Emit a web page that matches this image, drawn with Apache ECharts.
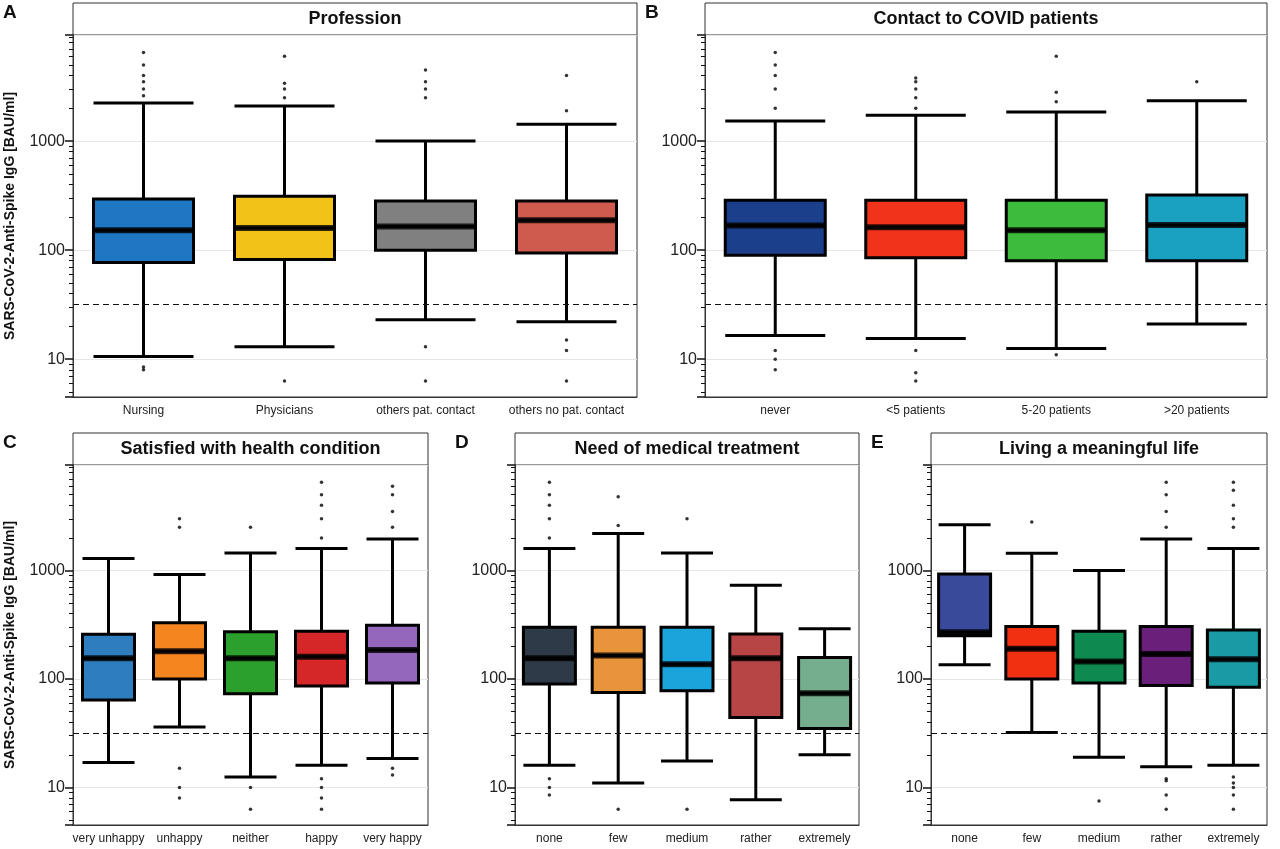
<!DOCTYPE html>
<html>
<head>
<meta charset="utf-8">
<script src="https://cdn.jsdelivr.net/npm/echarts@6/dist/echarts.min.js"></script>
<style>html,body{margin:0;padding:0;background:#fff}#chart{width:1280px;height:849px}</style>
</head>
<body>
<div id="chart"></div>
<script>
// values: [low whisker, Q1, median, Q3, high whisker]
var aCats = ['Nursing', 'Physicians', 'others pat. contact', 'others no pat. contact'];
var aStats = [[10.6, 77, 152, 295, 2240], [13, 82, 160, 312, 2100], [23, 100, 165, 283, 1000], [22, 94, 188, 283, 1430]];
var aOut = [[2600, 3000, 3500, 4000, 5000, 6500, 8, 8.5], [2500, 3000, 3400, 6000, 6.3], [2500, 3000, 3500, 4500, 6.3, 13], [1900, 4000, 6.3, 12, 15]];

var bCats = ['never', '<5 patients', '5-20 patients', '>20 patients'];
var bStats = [[16.5, 90, 168, 287, 1530], [15.5, 85, 162, 287, 1730], [12.5, 80, 152, 287, 1850], [21, 80, 170, 320, 2350]];
var bOut = [[2000, 3000, 4000, 5000, 6500, 8, 10, 12], [2000, 2500, 3000, 3500, 3800, 6.3, 7.5, 12], [2300, 2800, 6000, 11], [3500]];

var cCats = ['very unhappy', 'unhappy', 'neither', 'happy', 'very happy'];
var cStats = [[17, 64, 155, 258, 1290], [36, 100, 180, 330, 920], [12.5, 73, 155, 272, 1450], [16, 86, 160, 275, 1600], [18.5, 92, 185, 313, 1950]];
var cOut = [[], [2500, 3000, 8, 10, 15], [2500, 6.3, 10], [2000, 3000, 4000, 5000, 6500, 6.3, 8, 10, 12], [2500, 3500, 5000, 6000, 13, 15]];

var dCats = ['none', 'few', 'medium', 'rather', 'extremely'];
var dStats = [[16, 90, 155, 300, 1600], [11, 75, 165, 300, 2200], [17.5, 78, 137, 300, 1450], [7.7, 44, 155, 260, 730], [20, 35, 74, 158, 290]];
var dOut = [[2000, 3000, 4000, 5000, 6500, 8.5, 10, 12], [2600, 4800, 6.3], [3000, 6.3], [], []];

var eCats = ['none', 'few', 'medium', 'rather', 'extremely'];
var eStats = [[135, 250, 270, 930, 2650], [32, 100, 190, 305, 1440], [19, 92, 145, 275, 1000], [15.5, 87, 170, 305, 1950], [16, 84, 152, 283, 1600]];
var eOut = [[], [2800], [7.5], [2500, 3500, 5000, 6500, 6.3, 8.5, 11.5, 12], [2500, 3000, 4000, 5500, 6500, 6.3, 8.5, 10, 11, 12.5]];

var threshold = 31.6;
var yName = 'SARS-CoV-2-Anti-Spike IgG [BAU/ml]';

var panels = [
  {letter: 'A', title: 'Profession', cats: aCats, stats: aStats, out: aOut, colors: ['#1F77C4', '#F2C218', '#808080', '#CF5A4E'], left: 73, right: 637, top: 35, bottom: 397, box: 100, yname: true},
  {letter: 'B', title: 'Contact to COVID patients', cats: bCats, stats: bStats, out: bOut, colors: ['#1B3F8B', '#F0331A', '#3DBB3D', '#1AA0C0'], left: 705, right: 1267, top: 35, bottom: 397, box: 100},
  {letter: 'C', title: 'Satisfied with health condition', cats: cCats, stats: cStats, out: cOut, colors: ['#2E7EBF', '#F5851F', '#2CA02C', '#D62728', '#9467BD'], left: 73, right: 428, top: 465, bottom: 825, box: 52, yname: true},
  {letter: 'D', title: 'Need of medical treatment', cats: dCats, stats: dStats, out: dOut, colors: ['#2F3A48', '#E8943A', '#1BA3DC', '#B84545', '#74AE8F'], left: 515, right: 859, top: 465, bottom: 825, box: 52},
  {letter: 'E', title: 'Living a meaningful life', cats: eCats, stats: eStats, out: eOut, colors: ['#3A4A9A', '#F03010', '#0E8A50', '#6A1F7A', '#1A9AA5'], left: 931, right: 1267, top: 465, bottom: 825, box: 52}
];

var font = 'Liberation Sans, Arial, sans-serif';
var option = {animation: false, grid: [], xAxis: [], yAxis: [], series: [], graphic: []};

panels.forEach(function (p, i) {
  option.grid.push({left: p.left, top: p.top, width: p.right - p.left, height: p.bottom - p.top,
    show: true, borderColor: '#333', borderWidth: 1, backgroundColor: '#fff'});
  option.xAxis.push({type: 'category', gridIndex: i, data: p.cats, boundaryGap: true,
    axisLine: {lineStyle: {color: '#333'}}, axisTick: {alignWithLabel: true, lineStyle: {color: '#333'}},
    axisLabel: {interval: 0, color: '#222', fontSize: 12, fontFamily: font, margin: 8}});
  option.yAxis.push({type: 'log', logBase: 10, gridIndex: i, min: 4.5, max: 9400,
    name: p.yname ? yName : '', nameLocation: 'middle', nameGap: 56,
    nameTextStyle: {fontSize: 14, fontWeight: 'bold', fontFamily: font, color: '#111'},
    axisLine: {show: true, lineStyle: {color: '#333'}},
    axisTick: {show: true, length: 8, lineStyle: {color: '#111', width: 1.5}},
    minorTick: {show: true, splitNumber: 9, length: 4, lineStyle: {color: '#111'}},
    splitLine: {show: true, lineStyle: {color: '#E6E6E6'}},
    axisLabel: {fontSize: 16, color: '#222', fontFamily: font, formatter: function (v) {
      var l = Math.log10(v);
      return (Math.abs(l - Math.round(l)) < 1e-6 && l > 0.9 && l < 3.1) ? String(Math.round(v)) : '';
    }}});
  option.series.push({type: 'boxplot', xAxisIndex: i, yAxisIndex: i, boxWidth: [p.box, p.box],
    data: p.stats.map(function (s, k) {
      return {value: s, itemStyle: {color: p.colors[k], borderColor: '#000', borderWidth: 3}};
    }),
    markLine: {silent: true, symbol: 'none', label: {show: false},
      lineStyle: {color: '#111', type: [6, 4], width: 1.2}, data: [{yAxis: threshold}]}});
  // thick median bar
  option.series.push({type: 'scatter', xAxisIndex: i, yAxisIndex: i, silent: true,
    symbol: 'rect', symbolSize: [p.box, 6], itemStyle: {color: '#000'}, z: 3,
    data: p.stats.map(function (s, k) { return [k, s[2]]; })});
  var pts = [];
  p.out.forEach(function (arr, k) { arr.forEach(function (v) { pts.push([k, v]); }); });
  option.series.push({type: 'scatter', xAxisIndex: i, yAxisIndex: i, data: pts,
    symbolSize: 3.5, itemStyle: {color: '#000'}, silent: true});
  // strip title
  option.graphic.push({type: 'rect', shape: {x: p.left, y: p.top - 32, width: p.right - p.left, height: 32},
    style: {fill: '#fff', stroke: '#333', lineWidth: 1}});
  option.graphic.push({type: 'text', x: (p.left + p.right) / 2, y: p.top - 16,
    style: {text: p.title, align: 'center', verticalAlign: 'middle', font: 'bold 18px ' + font, fill: '#111'}});
  option.graphic.push({type: 'text', x: p.left - (p.yname ? 70 : 60), y: p.top - 32,
    style: {text: p.letter, font: 'bold 19px ' + font, fill: '#111'}});
});

var chart = echarts.init(document.getElementById('chart'));
chart.setOption(option);
</script>
</body>
</html>
